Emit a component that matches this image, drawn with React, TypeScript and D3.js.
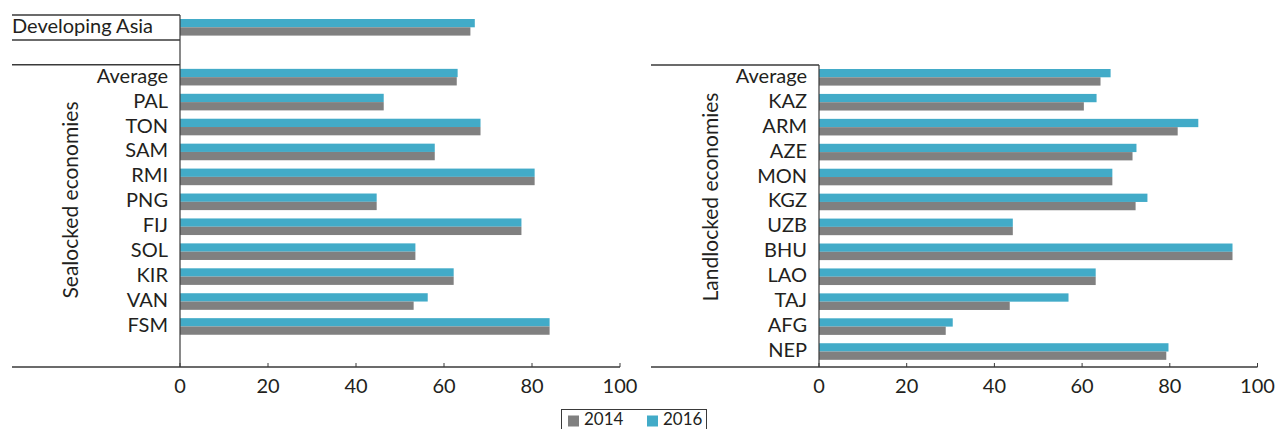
import React from "react";
import * as d3 from "d3";

// ---- data ----
const asiaCategories = ["Developing Asia"];
const asia2014 = [66.0];
const asia2016 = [67.0];

const seaCategories = ["Average", "PAL", "TON", "SAM", "RMI", "PNG", "FIJ", "SOL", "KIR", "VAN", "FSM"];
const sea2014 = [62.9, 46.3, 68.3, 57.9, 80.6, 44.7, 77.6, 53.5, 62.2, 53.1, 84.0];
const sea2016 = [63.1, 46.3, 68.3, 57.9, 80.6, 44.7, 77.6, 53.5, 62.2, 56.3, 84.0];

const landCategories = ["Average", "KAZ", "ARM", "AZE", "MON", "KGZ", "UZB", "BHU", "LAO", "TAJ", "AFG", "NEP"];
const land2014 = [64.2, 60.4, 81.8, 71.5, 66.9, 72.2, 44.2, 94.3, 63.1, 43.5, 28.9, 79.2];
const land2016 = [66.5, 63.3, 86.5, 72.4, 66.9, 74.9, 44.2, 94.3, 63.1, 56.9, 30.5, 79.7];

const xTicks = [0, 20, 40, 60, 80, 100];
const seriesNames = ["2014", "2016"];

// ---- style ----
const W = 1283;
const H = 429;
const C2014 = "#808080";
const C2016 = "#42abc8";
const TEXT = "#231f20";
const LINE = "#3a3a3a";
const FONT = "Lato, 'Open Sans', sans-serif";
const STEP = 24.93;
const AXIS_Y = 367;
const LABEL_SIZE = 20;

const GAP = "__gap";

function Panel(props: {
  cats: string[];
  v14: number[];
  v16: number[];
  x0: number;
  x1: number;
  yTop: number;
  lineLeft: number;
  title: string;
  titleX: number;
  titleY: number;
  vTop: number;
  extra?: { cats: string[]; v14: number[]; v16: number[] };
}) {
  const { cats, v14, v16, x0, x1, yTop, lineLeft, title, titleX, titleY, vTop, extra } = props;
  const x = d3.scaleLinear().domain([0, 100]).range([x0, x1]);
  const domain = extra ? [...extra.cats, GAP, ...cats] : cats;
  const y = d3
    .scaleBand<string>()
    .domain(domain)
    .range([yTop, yTop + STEP * domain.length])
    .padding(0);
  const sub = d3.scaleBand<string>().domain(["2016", "2014"]).range([4, 20.6]).padding(0);

  const rows: { c: string; a: number; b: number; isAsia: boolean }[] = [];
  if (extra) extra.cats.forEach((c, i) => rows.push({ c, a: extra.v14[i], b: extra.v16[i], isAsia: true }));
  cats.forEach((c, i) => rows.push({ c, a: v14[i], b: v16[i], isAsia: false }));

  return (
    <g>
      {rows.map((r) => {
        const by = y(r.c)!;
        return (
          <g key={r.c}>
            <rect x={x(0)} y={by + sub("2016")!} width={x(r.b) - x(0)} height={sub.bandwidth()} fill={C2016} />
            <rect x={x(0)} y={by + sub("2014")!} width={x(r.a) - x(0)} height={sub.bandwidth()} fill={C2014} />
            {r.isAsia ? (
              <text x={12} y={by + 17.8} fontSize={LABEL_SIZE} fill={TEXT} fontFamily={FONT}>
                {r.c}
              </text>
            ) : (
              <text x={x0 - 12} y={by + 17.8} fontSize={LABEL_SIZE} fill={TEXT} fontFamily={FONT} textAnchor="end">
                {r.c}
              </text>
            )}
          </g>
        );
      })}
      {extra && (
        <g>
          <line x1={12} x2={x0} y1={y(extra.cats[0])!} y2={y(extra.cats[0])!} stroke={LINE} strokeWidth={1.5} />
          <line x1={12} x2={x0} y1={y(GAP)!} y2={y(GAP)!} stroke={LINE} strokeWidth={1.5} />
        </g>
      )}
      <line x1={lineLeft} x2={x0} y1={y(cats[0])!} y2={y(cats[0])!} stroke={LINE} strokeWidth={1.5} />
      <line x1={x0} x2={x0} y1={vTop} y2={AXIS_Y} stroke={LINE} strokeWidth={1.2} />
      <line x1={lineLeft} x2={x1} y1={AXIS_Y} y2={AXIS_Y} stroke={LINE} strokeWidth={1.4} />
      {xTicks.map((t) => (
        <g key={t}>
          <line x1={x(t)} x2={x(t)} y1={AXIS_Y - 4} y2={AXIS_Y} stroke={LINE} strokeWidth={1} />
          <text x={x(t)} y={AXIS_Y + 25.5} fontSize={20} fill={TEXT} fontFamily={FONT} textAnchor="middle">
            {t}
          </text>
        </g>
      ))}
      <text
        transform={`translate(${titleX},${titleY}) rotate(-90)`}
        fontSize={21}
        fill={TEXT}
        fontFamily={FONT}
        textAnchor="middle"
      >
        {title}
      </text>
    </g>
  );
}

export default function App() {
  const legendColor = d3.scaleOrdinal<string, string>().domain(seriesNames).range([C2014, C2016]);
  return (
    <svg width={W} height={H} style={{ position: "absolute", left: 0, top: 0, background: "#fff" }}>
      <Panel
        cats={seaCategories}
        v14={sea2014}
        v16={sea2016}
        x0={180}
        x1={620}
        yTop={15}
        lineLeft={12}
        title="Sealocked economies"
        titleX={78}
        titleY={200}
        vTop={15}
        extra={{ cats: asiaCategories, v14: asia2014, v16: asia2016 }}
      />
      <Panel
        cats={landCategories}
        v14={land2014}
        v16={land2016}
        x0={819}
        x1={1257.5}
        yTop={65}
        lineLeft={651}
        title="Landlocked economies"
        titleX={718}
        titleY={197}
        vTop={65}
      />
      <rect x={561.5} y={409.5} width={145} height={30} fill="none" stroke={LINE} strokeWidth={1} />
      {seriesNames.map((s, i) => (
        <g key={s} transform={`translate(${568 + i * 79},0)`}>
          <rect x={0} y={415.5} width={11} height={11} fill={legendColor(s)} />
          <text x={16} y={425} fontSize={17} fill={TEXT} fontFamily={FONT}>
            {s}
          </text>
        </g>
      ))}
    </svg>
  );
}
